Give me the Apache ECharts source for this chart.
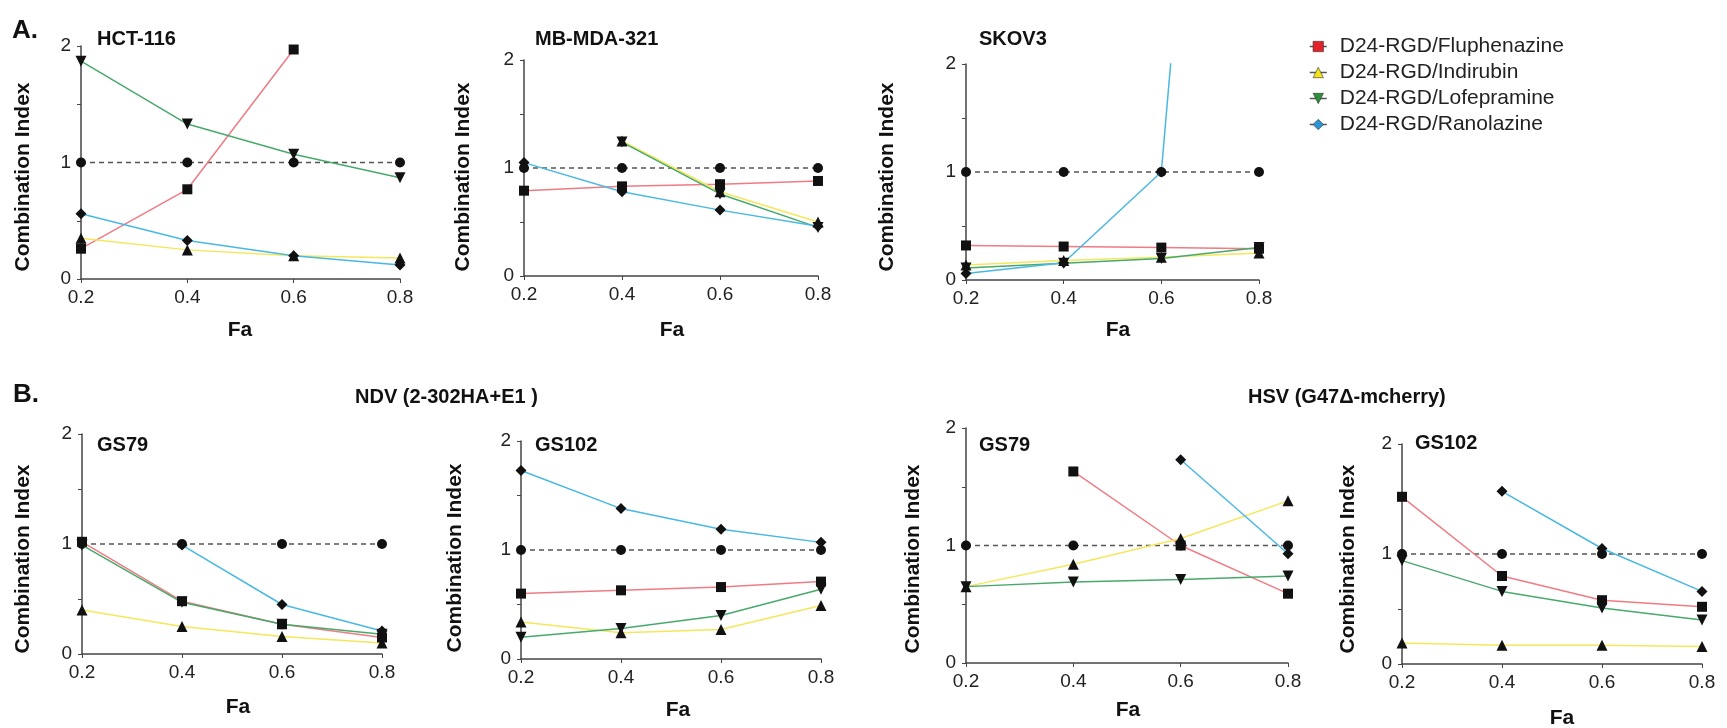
<!DOCTYPE html>
<html>
<head>
<meta charset="utf-8">
<title>Combination Index</title>
<script src="https://cdn.jsdelivr.net/npm/echarts@6/dist/echarts.min.js"></script>
<style>
  html, body { margin: 0; padding: 0; background: #fff; }
  #chart { width: 1727px; height: 728px; }
</style>
</head>
<body>
<div id="chart"></div>
<script>
// x categories (Fa) and legend names
const faLabels = ['0.2', '0.4', '0.6', '0.8']
const drugNames = ['D24-RGD/Fluphenazine', 'D24-RGD/Indirubin', 'D24-RGD/Lofepramine', 'D24-RGD/Ranolazine']
const additiveLine = [1, 1, 1, 1]

// A. HCT-116
const hctFlu = [0.26, 0.77, 1.97, null]
const hctInd = [0.35, 0.25, 0.2, 0.18]
const hctLof = [1.87, 1.33, 1.07, 0.87]
const hctRan = [0.56, 0.33, 0.2, 0.12]
// A. MB-MDA-321
const mdaFlu = [0.79, 0.83, 0.85, 0.88]
const mdaInd = [null, 1.25, 0.78, 0.5]
const mdaLof = [null, 1.24, 0.76, 0.45]
const mdaRan = [1.05, 0.78, 0.61, 0.46]
// A. SKOV3
const skovFlu = [0.32, 0.31, 0.3, 0.29]
const skovInd = [0.14, 0.18, 0.21, 0.25]
const skovLof = [0.11, 0.155, 0.2, 0.3]
const skovRan = [0.06, 0.16, 1.0, 11.5]
// B. NDV GS79
const ndv79Flu = [1.02, 0.48, 0.27, 0.15]
const ndv79Ind = [0.4, 0.25, 0.16, 0.1]
const ndv79Lof = [0.99, 0.47, 0.27, 0.18]
const ndv79Ran = [null, 0.99, 0.45, 0.21]
// B. NDV GS102
const ndv102Flu = [0.6, 0.63, 0.66, 0.71]
const ndv102Ind = [0.34, 0.24, 0.27, 0.49]
const ndv102Lof = [0.2, 0.28, 0.4, 0.64]
const ndv102Ran = [1.73, 1.38, 1.19, 1.07]
// B. HSV GS79
const hsv79Flu = [null, 1.63, 1.0, 0.59]
const hsv79Ind = [0.65, 0.84, 1.06, 1.38]
const hsv79Lof = [0.65, 0.69, 0.71, 0.74]
const hsv79Ran = [null, null, 1.73, 0.93]
// B. HSV GS102
const hsv102Flu = [1.52, 0.8, 0.58, 0.52]
const hsv102Ind = [0.19, 0.17, 0.17, 0.16]
const hsv102Lof = [0.94, 0.66, 0.51, 0.4]
const hsv102Ran = [null, 1.57, 1.05, 0.66]

const lineColors = ['#ef7b85', '#f4e75c', '#48a96c', '#49b8e2']
const legendColors = ['#e3222b', '#f2e418', '#2b8f3c', '#2a95d4']
const symbols = ['rect', 'triangle', 'path://M0,0L10,0L5,10Z', 'diamond']
const symbolSizes = [10, 11, 11, 11]
const FONT = 'Liberation Sans, Arial, sans-serif'

// layout of each small chart
const panels = [
  { name: 'HCT-116', data: [hctFlu, hctInd, hctLof, hctRan], grid: { left: 81, top: 46, width: 319, height: 233 }, title: [97, 39], yTitle: [23, 177], faTitle: [240, 330] },
  { name: 'MB-MDA-321', data: [mdaFlu, mdaInd, mdaLof, mdaRan], grid: { left: 524, top: 60, width: 294, height: 216 }, title: [535, 39], yTitle: [463, 177], faTitle: [672, 330] },
  { name: 'SKOV3', data: [skovFlu, skovInd, skovLof, skovRan], grid: { left: 966, top: 64, width: 293, height: 216 }, title: [979, 39], yTitle: [887, 177], faTitle: [1118, 330] },
  { name: 'GS79', data: [ndv79Flu, ndv79Ind, ndv79Lof, ndv79Ran], grid: { left: 82, top: 434, width: 300, height: 220 }, title: [97, 445], yTitle: [23, 559], faTitle: [238, 707] },
  { name: 'GS102', data: [ndv102Flu, ndv102Ind, ndv102Lof, ndv102Ran], grid: { left: 521, top: 441, width: 300, height: 218 }, title: [535, 445], yTitle: [455, 558], faTitle: [678, 710] },
  { name: 'GS79', data: [hsv79Flu, hsv79Ind, hsv79Lof, hsv79Ran], grid: { left: 966, top: 428, width: 322, height: 235 }, title: [979, 445], yTitle: [913, 559], faTitle: [1128, 710] },
  { name: 'GS102', data: [hsv102Flu, hsv102Ind, hsv102Lof, hsv102Ran], grid: { left: 1402, top: 444, width: 300, height: 220 }, title: [1415, 443], yTitle: [1348, 559], faTitle: [1562, 718] }
]

const chart = echarts.init(document.getElementById('chart'), null, { renderer: 'canvas' })

const grids = []
const xAxes = []
const yAxes = []
const series = []
const graphics = [
  { type: 'text', x: 12, y: 31, style: { text: 'A.', font: 'bold 26px ' + FONT, fill: '#111', textVerticalAlign: 'middle' } },
  { type: 'text', x: 13, y: 395, style: { text: 'B.', font: 'bold 26px ' + FONT, fill: '#111', textVerticalAlign: 'middle' } },
  { type: 'text', x: 355, y: 397, style: { text: 'NDV (2-302HA+E1 )', font: 'bold 20px ' + FONT, fill: '#111', textVerticalAlign: 'middle' } },
  { type: 'text', x: 1248, y: 397, style: { text: 'HSV (G47Δ-mcherry)', font: 'bold 20px ' + FONT, fill: '#111', textVerticalAlign: 'middle' } }
]

panels.forEach((p, i) => {
  grids.push(Object.assign({ containLabel: false }, p.grid))
  xAxes.push({
    type: 'category',
    gridIndex: i,
    data: faLabels,
    boundaryGap: false,
    axisLine: { lineStyle: { color: '#444', width: 1.5 } },
    axisTick: { show: true, length: 4, lineStyle: { color: '#444' } },
    axisLabel: { color: '#222', fontSize: 19, fontFamily: FONT, margin: 9 },
    splitLine: { show: false }
  })
  yAxes.push({
    type: 'value',
    gridIndex: i,
    min: 0,
    max: 2,
    interval: 0.5,
    axisLine: { show: true, lineStyle: { color: '#444', width: 1.5 } },
    axisTick: { show: true, length: 4, lineStyle: { color: '#444' } },
    axisLabel: {
      color: '#222',
      fontSize: 19,
      fontFamily: FONT,
      margin: 10,
      formatter: v => (v % 1 === 0 ? String(v) : '')
    },
    splitLine: { show: false }
  })
  // additive reference line (CI = 1)
  series.push({
    name: 'Additive',
    type: 'line',
    xAxisIndex: i,
    yAxisIndex: i,
    data: additiveLine,
    symbol: 'circle',
    symbolSize: 10,
    itemStyle: { color: '#111' },
    lineStyle: { color: '#555', width: 1.5, type: [5, 4] },
    z: 2,
    animation: false
  })
  p.data.forEach((vals, k) => {
    series.push({
      name: drugNames[k],
      type: 'line',
      xAxisIndex: i,
      yAxisIndex: i,
      data: vals,
      symbol: symbols[k],
      symbolSize: symbolSizes[k],
      clip: true,
      itemStyle: { color: '#111' },
      lineStyle: { color: lineColors[k], width: 1.5 },
      z: 3,
      animation: false
    })
  })
  graphics.push({ type: 'text', x: p.title[0], y: p.title[1], style: { text: p.name, font: 'bold 20px ' + FONT, fill: '#111', textVerticalAlign: 'middle' } })
  graphics.push({ type: 'text', x: p.yTitle[0], y: p.yTitle[1], rotation: Math.PI / 2, style: { text: 'Combination Index', font: 'bold 21px ' + FONT, fill: '#111', textAlign: 'center', textVerticalAlign: 'middle' } })
  graphics.push({ type: 'text', x: p.faTitle[0], y: p.faTitle[1], style: { text: 'Fa', font: 'bold 21px ' + FONT, fill: '#111', textAlign: 'center', textVerticalAlign: 'middle' } })
})

chart.setOption({
  backgroundColor: '#fff',
  animation: false,
  legend: {
    orient: 'vertical',
    left: 1304,
    top: 31,
    itemGap: 5,
    itemWidth: 17,
    itemHeight: 13,
    textStyle: { fontSize: 21, fontFamily: FONT, color: '#222', lineHeight: 21, padding: [0, 0, 0, 8] },
    data: drugNames.map((n, k) => ({
      name: n,
      itemStyle: { color: legendColors[k], borderColor: '#333', borderWidth: 0.6 },
      lineStyle: { color: '#555', width: 1.5, type: 'solid' }
    })),
    selectedMode: false
  },
  grid: grids,
  xAxis: xAxes,
  yAxis: yAxes,
  series: series,
  graphic: graphics
})
</script>
</body>
</html>
